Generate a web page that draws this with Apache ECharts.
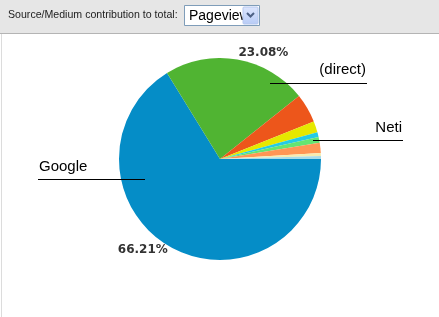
<!DOCTYPE html>
<html>
<head>
<meta charset="utf-8">
<script src="https://cdn.jsdelivr.net/npm/echarts@6/dist/echarts.min.js"></script>
<style>
html,body{margin:0;padding:0;background:#fff;}
#c{width:439px;height:317px;}
</style>
</head>
<body>
<div id="c"></div>
<script>
// ---- data ----
const categories = ['Google', '(direct)', 'Source 3', 'Source 4', 'Source 5', 'Neti', 'Source 7', 'Source 8', 'Source 9'];
const shares = [66.21, 23.08, 4.65, 1.80, 0.75, 0.95, 1.60, 0.50, 0.46];
const namedLabels = ['Google', '(direct)', 'Neti'];
const percentLabels = ['Google', '(direct)'];
const colors = ['#058dc7', '#50b432', '#ed561b', '#e6e800', '#24cbe5', '#64e572', '#ff9655', '#f6ecb0', '#a8dbe8'];

const chart = echarts.init(document.getElementById('c'), null, {renderer: 'canvas'});

const sliceData = categories.map((n, i) => ({
  name: n, value: shares[i],
  label: {show: percentLabels.includes(n)}
}));
const nameData = categories.map((n, i) => ({
  name: n, value: shares[i],
  label: {show: namedLabels.includes(n)},
  labelLine: {show: namedLabels.includes(n)}
}));

// annotation placement for the name labels (anchor inside slice + underline)
const nameLayout = {
  'Google':   {x: 39,  y: 167, align: 'left',  line: [[145, 179.5], [90, 179.5], [38, 179.5]]},
  '(direct)': {x: 366, y: 70,  align: 'right', line: [[270, 83.5], [320, 83.5], [367, 83.5]]},
  'Neti':     {x: 402, y: 128, align: 'right', line: [[313, 140.5], [370, 140.5], [403, 140.5]]}
};

const option = {
  animation: false,
  color: colors,
  graphic: [
    {type: 'rect', shape: {x: 0, y: 0, width: 439, height: 33}, style: {fill: '#e6e6e6'}, silent: true},
    {type: 'line', shape: {x1: 0, y1: 33.5, x2: 439, y2: 33.5}, style: {stroke: '#b4b4b4', lineWidth: 1}, silent: true},
    {type: 'line', shape: {x1: 1.5, y1: 34, x2: 1.5, y2: 317}, style: {stroke: '#dcdcdc', lineWidth: 1}, silent: true},
    {type: 'text', x: 8, y: 15, style: {text: 'Source/Medium contribution to total:', font: '10.6px "Liberation Sans", Arial, sans-serif', fill: '#222', verticalAlign: 'middle'}, silent: true},
    {type: 'rect', shape: {x: 184.5, y: 5.5, width: 75, height: 20}, style: {fill: '#fff', stroke: '#7f9db9', lineWidth: 1}, silent: true},
    {type: 'text', x: 189, y: 16, style: {text: 'Pageview', font: '14px "Liberation Sans", Arial, sans-serif', fill: '#000', verticalAlign: 'middle'}, silent: true},
    {type: 'rect', shape: {x: 243, y: 7, width: 15, height: 17, r: 1},
      style: {fill: new echarts.graphic.LinearGradient(0, 0, 0, 1, [{offset: 0, color: '#dde6fd'}, {offset: 1, color: '#b7cbf6'}]), stroke: '#b6c8ef', lineWidth: 1}, silent: true},
    {type: 'polyline', shape: {points: [[247, 13], [250.5, 16.5], [254, 13]]}, style: {stroke: '#4d6185', lineWidth: 2, fill: null}, silent: true}
  ],
  series: [
    {
      type: 'pie',
      z: 2,
      center: [220, 159],
      radius: [0, 101],
      startAngle: 0,
      clockwise: true,
      avoidLabelOverlap: false,
      silent: true,
      itemStyle: {borderWidth: 0},
      label: {
        position: 'outside',
        formatter: '{d}%',
        color: '#333',
        fontSize: 12,
        fontWeight: 'bold',
        fontFamily: '"DejaVu Sans", Verdana, sans-serif',
        distanceToLabelLine: 0
      },
      labelLine: {show: false, length: 6, length2: 0},
      labelLayout: function (p) {
        if (categories[p.dataIndex] === 'Google') return {dy: -3};
        return {dy: -1};
      },
      data: sliceData
    },
    {
      type: 'pie',
      z: 5,
      center: [220, 159],
      radius: [0, 101],
      startAngle: 0,
      clockwise: true,
      avoidLabelOverlap: false,
      silent: true,
      itemStyle: {color: 'rgba(0,0,0,0)', borderWidth: 0},
      label: {
        position: 'outside',
        formatter: '{b}',
        color: '#000',
        fontSize: 15,
        fontFamily: '"Liberation Sans", Arial, sans-serif'
      },
      labelLine: {show: true, length: 10, length2: 10, lineStyle: {color: '#000', width: 1}},
      labelLayout: function (p) {
        const L = nameLayout[categories[p.dataIndex]];
        if (!L) return {};
        return {x: L.x, y: L.y, align: L.align, verticalAlign: 'middle', labelLinePoints: L.line};
      },
      data: nameData
    }
  ]
};
chart.setOption(option);
</script>
</body>
</html>
